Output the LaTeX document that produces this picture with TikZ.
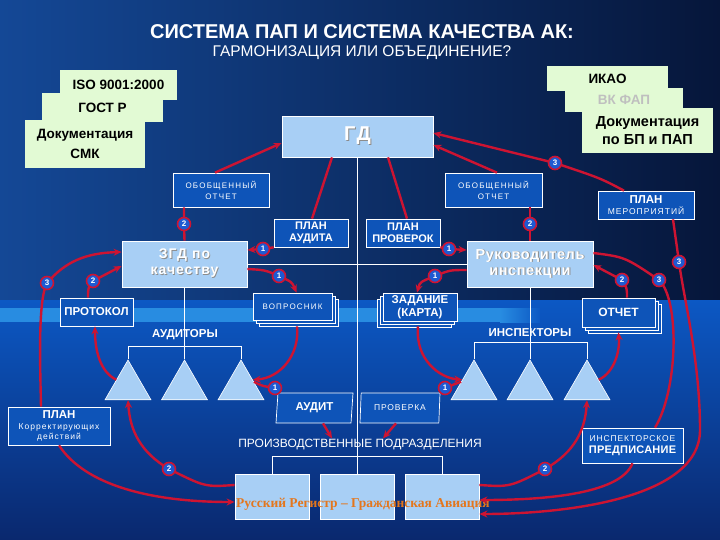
\documentclass[tikz,border=0pt]{standalone}
\usepackage{fontspec}
\setmainfont{Liberation Sans}
\newfontfamily\serifb{Liberation Serif}
\usetikzlibrary{arrows.meta,shapes.geometric,shadows,calc}
\definecolor{redc}{RGB}{205,20,50}
\definecolor{lb}{RGB}{168,207,245}
\definecolor{db}{RGB}{14,84,184}
\definecolor{lg}{RGB}{226,250,212}
\definecolor{nb}{RGB}{30,90,210}
\definecolor{org}{RGB}{228,118,28}
\definecolor{bgA}{RGB}{20,72,150}
\definecolor{bgB}{RGB}{6,22,58}
\definecolor{bgC}{RGB}{12,88,196}
\definecolor{bgD}{RGB}{10,40,110}
\definecolor{band}{RGB}{40,140,225}
\newcommand{\fs}[2]{\fontsize{#1}{#2}\selectfont}
\newcommand{\ls}[1]{\addfontfeature{LetterSpace=#1}}
\newcommand{\emb}[1]{\leavevmode\rlap{\kern0.9pt\raisebox{-0.9pt}{\color{black!45}#1}}#1}
\tikzset{
 lbox/.style={draw=white, line width=0.8pt, fill=lb, text=white, font=\bfseries, align=center, inner sep=0pt},
 dbox/.style={draw=white, line width=0.7pt, fill=db, text=white, align=center, inner sep=0pt},
 gbox/.style={fill=lg, text=black, align=center, inner sep=0pt},
 tri/.style={regular polygon, regular polygon sides=3, minimum size=53pt, inner sep=0pt, fill=lb, draw=white, line width=0.6pt},
 para/.style={trapezium, trapezium left angle=79, trapezium right angle=101, trapezium stretches body, draw=white, line width=0.7pt, fill=db, text=white, inner sep=0pt, minimum height=30pt},
 lbl/.style={text=white, inner sep=1pt},
 wl/.style={draw=white, line width=0.7pt},
 redl/.style={draw=redc, line width=2.4pt},
 ar/.style={-{Stealth[length=8pt,width=7pt]}},
 num/.style={circle, fill=nb, draw=redc, line width=1.6pt, minimum size=13pt, inner sep=0pt, text=white, font=\bfseries\fs{8}{8}},
 stkr/.style={double copy shadow={shadow xshift=3pt, shadow yshift=-3pt, fill=db, draw=white, line width=0.7pt}},
 stkl/.style={double copy shadow={shadow xshift=-3pt, shadow yshift=-3pt, fill=db, draw=white, line width=0.7pt}},
}
\begin{document}
\begin{tikzpicture}[x=1pt,y=-1pt]
\useasboundingbox (0,0) rectangle (720,540);
% background
\shade[left color=bgA, right color=bgB] (0,0) rectangle (720,300);
\shade[top color=bgC, bottom color=bgD] (0,300) rectangle (720,540);
\fill[band] (0,308) rectangle (500,322);
\shade[left color=band, right color=bgC] (500,308) rectangle (540,322);

% title
\node[lbl, font=\bfseries\fs{20}{24}] (title) at (362,32) {СИСТЕМА ПАП И СИСТЕМА КАЧЕСТВА АК:};
\node[lbl, font=\fs{15.5}{18}] (subt) at (362,53) {ГАРМОНИЗАЦИЯ ИЛИ ОБЪЕДИНЕНИЕ?};

% green stacks
\node[gbox, minimum width=117pt, minimum height=30pt, font=\bfseries\fs{13.5}{16}] (iso) at (118.5,85) {ISO 9001:2000};
\node[gbox, minimum width=121pt, minimum height=29pt, font=\bfseries\fs{13.5}{16}] (gost) at (102.5,107.5) {ГОСТ Р};
\node[gbox, minimum width=120pt, minimum height=48pt, font=\bfseries\fs{13.5}{20}] (smk) at (85,144) {Документация\\СМК};
\node[gbox, minimum width=121pt, minimum height=25pt, font=\bfseries\fs{13.5}{16}] (ikao) at (607.5,79) {ИКАО};
\node[gbox, minimum width=118pt, minimum height=24pt, font=\bfseries\fs{13.5}{16}, text=black!25] (vk) at (624,100) {ВК ФАП};
\node[gbox, minimum width=131pt, minimum height=45pt, font=\bfseries\fs{14.5}{17.5}] (dbp) at (647.5,130.5) {Документация\\по БП и ПАП};

% tree lines
\coordinate (gdbot) at (357.5,157);
\draw[wl] (gdbot) -- (357.5,474);

% main light boxes
\node[lbox, minimum width=151pt, minimum height=41pt, font=\bfseries\fs{20}{22}\ls{8}] (gd) at (357.5,136.5) {\emb{ГД}};
\node[lbox, minimum width=125pt, minimum height=46pt, font=\bfseries\fs{14}{16}\ls{7}] (zgd) at (184.5,264) {\emb{ЗГД по}\\\emb{качеству}};
\node[lbox, minimum width=126pt, minimum height=46pt, font=\bfseries\fs{14.5}{16}\ls{4}] (rk) at (530,264) {\emb{Руководитель}\\\emb{инспекции}};
\draw[wl] (zgd.east) -- (rk.west);

% dark boxes
\node[dbox, minimum width=96pt, minimum height=34pt, font=\fs{8}{11}\ls{15}] (ooL) at (221,190) {ОБОБЩЕННЫЙ\\ОТЧЕТ};
\node[dbox, minimum width=97pt, minimum height=34pt, font=\fs{8}{11}\ls{15}] (ooR) at (493.5,190) {ОБОБЩЕННЫЙ\\ОТЧЕТ};
\node[dbox, minimum width=96pt, minimum height=28pt, font=\fs{8.5}{11}] (plm) at (646,205) {{\bfseries\fs{11.5}{13}ПЛАН}\\{\ls{12}МЕРОПРИЯТИЙ}};
\node[dbox, minimum width=74pt, minimum height=28pt, font=\bfseries\fs{11}{12.5}] (pa) at (311,233) {ПЛАН\\АУДИТА};
\node[dbox, minimum width=74pt, minimum height=28pt, font=\bfseries\fs{11}{12.5}] (pp) at (403,233) {ПЛАН\\ПРОВЕРОК};
\node[dbox, minimum width=73pt, minimum height=28pt, font=\bfseries\fs{11.5}{13}] (pr) at (96.5,312) {ПРОТОКОЛ};
\node[dbox, stkr, minimum width=79pt, minimum height=27pt, font=\fs{8}{10}\ls{15}] (vq) at (292.5,306.5) {ВОПРОСНИК};
\node[dbox, stkl, minimum width=74pt, minimum height=28pt, font=\bfseries\fs{11.5}{12.5}] (zd) at (420,307) {ЗАДАНИЕ\\(КАРТА)};
\node[dbox, stkr, minimum width=73pt, minimum height=29pt, font=\bfseries\fs{12}{14}] (ot) at (618.5,312.5) {ОТЧЕТ};

% auditors / inspectors
\node[lbl, font=\bfseries\fs{11.5}{13}] (audl) at (185,335) {АУДИТОРЫ};
\node[lbl, font=\bfseries\fs{11.5}{13}] (insl) at (530,333) {ИНСПЕКТОРЫ};
\node[tri] (tL1) at (128,386.5) {};
\node[tri] (tL2) at (184.5,386.5) {};
\node[tri] (tL3) at (241,386.5) {};
\node[tri] (tR1) at (474,386.5) {};
\node[tri] (tR2) at (530,386.5) {};
\node[tri] (tR3) at (587,386.5) {};
\draw[wl] (zgd.south) -- (tL2.corner 1);
\draw[wl] (rk.south) -- (tR2.corner 1);
\draw[wl] (tL1.corner 1) -- ++(0,-13) -| (tL3.corner 1);
\draw[wl] (tR1.corner 1) -- ++(0,-17) -| (tR3.corner 1);

\node[para, minimum width=77pt, font=\bfseries\fs{11.5}{13}] (au) at (314.5,408) {АУДИТ};
\node[para, minimum width=80pt, font=\fs{8.5}{10}\ls{10}] (pv) at (400,408) {ПРОВЕРКА};
\node[dbox, minimum width=102pt, minimum height=38pt, font=\fs{8.5}{10.5}\ls{12}] (pk) at (59,426) {{\bfseries\fs{11.5}{13}\ls{0}ПЛАН}\\Корректирующих\\действий};
\node[dbox, minimum width=101pt, minimum height=35pt, font=\fs{8.5}{12}\ls{10}] (ins) at (632.5,445.5) {ИНСПЕКТОРСКОЕ\\{\bfseries\fs{11}{13}\ls{2}ПРЕДПИСАНИЕ}};

% production units
\node[lbl, font=\fs{12}{14}] (ppl) at (360,445) {ПРОИЗВОДСТВЕННЫЕ ПОДРАЗДЕЛЕНИЯ};
\node[lbox, minimum width=74pt, minimum height=45pt] (pb1) at (272,496.5) {};
\node[lbox, minimum width=74pt, minimum height=45pt] (pb2) at (357,496.5) {};
\node[lbox, minimum width=74pt, minimum height=45pt] (pb3) at (442,496.5) {};
\draw[wl] (pb1.north) -- ++(0,-17) -| (pb3.north);
\node[text=org, font=\serifb\bfseries\fs{13.5}{15}] (btxt) at (363,504) {Русский Регистр – Гражданская Авиация};

% numbered circle positions
\coordinate (nL3) at (47,283);
\coordinate (nL2p) at (93,281);
\coordinate (nZtop) at (184,224);
\coordinate (nPA) at (263,249);
\coordinate (nVQ) at (279,276);
\coordinate (nRtop) at (530,224);
\coordinate (nPP) at (449,249);
\coordinate (nZD) at (435,276);
\coordinate (nOT) at (622,280);
\coordinate (nR3) at (659,280);
\coordinate (nR3b) at (679,262);
\coordinate (nGD3) at (555,163);
\coordinate (nAU) at (275,388);
\coordinate (nPR) at (445,388);
\coordinate (nB2L) at (169,469);
\coordinate (nB2R) at (545,469);

% red connectors
\draw[redl,ar] ([xshift=-6pt]ooL.north) -- ([yshift=-6.5pt]gd.west);
\draw[redl] ([xshift=-25.5pt]gd.south) -- ([xshift=1pt]pa.north);
\draw[redl] ([xshift=30.5pt]gd.south) -- ([xshift=4pt]pp.north);
\draw[redl,ar] ([xshift=3.5pt]ooR.north) -- ([yshift=-8.5pt]gd.east);
\draw[redl,ar] ([xshift=-22pt]plm.north) .. controls (600,178) .. (nGD3) -- ([yshift=3.5pt]gd.east);
\draw[redl,ar] ([xshift=27pt]plm.south) .. controls (676,240) .. (nR3b) .. controls (684,300) and (700,360) .. (700,430) .. controls (700,500) and (560,514) .. ([yshift=-17.5pt]pb3.east);
\draw[redl] ([yshift=11pt]rk.east) .. controls (625,257) .. (nR3) .. controls (680,300) and (678,390) .. ([xshift=22.5pt]ins.north);
\draw[redl,ar] (ins.south) .. controls (620,495) and (540,500) .. ([yshift=-3.5pt]pb3.east);
\draw[redl,ar] ([xshift=8.5pt]ot.north) .. controls (627,288) .. (nOT) -- ([yshift=-1pt]rk.east);
\draw[redl] ([xshift=-37pt]ooL.south) -- (nZtop) -- (zgd.north);
\draw[redl] ([xshift=36.5pt]ooR.south) -- (nRtop) -- (rk.north);
\draw[redl,ar] (pa.south west) -- (nPA) -- ([yshift=14pt]zgd.east);
\draw[redl,ar] (pp.south east) -- (nPP) -- ([yshift=14pt]rk.west);
\draw[redl,ar] ([yshift=-5pt]zgd.east) .. controls (265,270) .. (nVQ) .. controls (292,282) .. ([xshift=4pt]vq.north);
\draw[redl,ar] ([yshift=-6pt]rk.west) .. controls (450,270) .. (nZD) .. controls (420,282) .. ([xshift=-3pt]zd.north);
\draw[redl,ar] ([xshift=-18pt]pk.north) .. controls (40,360) and (38,300) .. (nL3) .. controls (65,262) and (85,253) .. ([yshift=12pt]zgd.west);
\draw[redl,ar] (pk.south) .. controls (85,485) and (150,502) .. ([yshift=-5.5pt]pb1.west);
\draw[redl,ar] ([xshift=-8.5pt]pr.north) .. controls (88,288) .. (nL2p) -- ([yshift=-2pt]zgd.west);
\draw[redl,ar] ([xshift=4.5pt,yshift=-6pt]vq.south) .. controls (300,355) and (280,378) .. ($(tL3.corner 1)!0.5!(tL3.corner 3)$);
\draw[redl] ($(tL3.corner 1)!0.55!(tL3.corner 3)$) .. controls (262,386) .. (nAU) -- (au.top left corner);
\draw[redl,ar] ([xshift=-2pt,yshift=-5pt]zd.south) .. controls (415,360) and (440,378) .. ($(tR1.corner 1)!0.5!(tR1.corner 2)$);
\draw[redl] (pv.top right corner) -- (nPR) .. controls (455,384) .. ($(tR1.corner 1)!0.55!(tR1.corner 2)$);
\draw[redl,ar] ([xshift=8.5pt]au.south) -- ([xshift=-28pt]ppl.north);
\draw[redl,ar] ([xshift=-4pt]pv.south) -- ([xshift=23pt]ppl.north);
\draw[redl,ar] ($(tR3.corner 1)!0.5!(tR3.corner 3)$) .. controls (615,372) and (620,350) .. ([yshift=-5pt]ot.south);
\draw[redl,ar] ($(tL1.corner 1)!0.5!(tL1.corner 2)$) .. controls (100,372) and (95,350) .. ([xshift=-1.5pt]pr.south);
\draw[redl,ar] ([yshift=11.5pt]pb1.west) .. controls (205,487) .. (nB2L) .. controls (140,452) and (130,430) .. ($(tL1.corner 2)!0.5!(tL1.corner 3)$);
\draw[redl,ar] ([yshift=11.5pt]pb3.east) .. controls (510,487) .. (nB2R) .. controls (575,452) and (585,430) .. ($(tR3.corner 2)!0.5!(tR3.corner 3)$);

% numbered circles
\node[num] (cL3) at (nL3) {3};
\node[num] (cL2p) at (nL2p) {2};
\node[num] (cZtop) at (nZtop) {2};
\node[num] (cPA) at (nPA) {1};
\node[num] (cVQ) at (nVQ) {1};
\node[num] (cRtop) at (nRtop) {2};
\node[num] (cPP) at (nPP) {1};
\node[num] (cZD) at (nZD) {1};
\node[num] (cOT) at (nOT) {2};
\node[num] (cR3) at (nR3) {3};
\node[num] (cR3b) at (nR3b) {3};
\node[num] (cGD3) at (nGD3) {3};
\node[num] (cAU) at (nAU) {1};
\node[num] (cPR) at (nPR) {1};
\node[num] (cB2L) at (nB2L) {2};
\node[num] (cB2R) at (nB2R) {2};
\end{tikzpicture}
\end{document}
